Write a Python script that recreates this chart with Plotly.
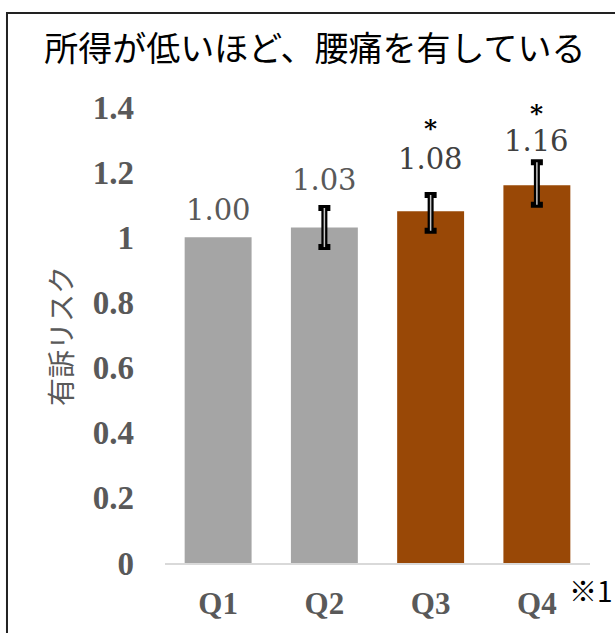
import plotly.graph_objects as go

categories = ["Q1", "Q2", "Q3", "Q4"]
values = [1.00, 1.03, 1.08, 1.16]
err_plus = [None, 0.06, 0.05, 0.07]
err_minus = [None, 0.06, 0.06, 0.06]
labels = ["1.00", "1.03", "1.08", "1.16"]
significant = [False, False, True, True]
bar_colors = ["#A5A5A5", "#A5A5A5", "#994806", "#994806"]
label_colors = ["#595959", "#595959", "#404040", "#404040"]
y_ticks = [0, 0.2, 0.4, 0.6, 0.8, 1.0, 1.2, 1.4]
y_ticktext = ["0", "0.2", "0.4", "0.6", "0.8", "1", "1.2", "1.4"]

# styling offsets (pixels) for data labels and significance marks
label_shift = [27, 28, 36, 21]
star_shift = [0, 0, 66, 49]

fig = go.Figure()
fig.add_trace(go.Bar(
    x=categories, y=values, marker=dict(color=bar_colors, line=dict(width=0)),
    showlegend=False, hoverinfo="skip",
))

idx = [i for i in range(len(categories)) if err_plus[i] is not None]
ex = [categories[i] for i in idx]
ey = [values[i] for i in idx]
ep = [err_plus[i] for i in idx]
em = [err_minus[i] for i in idx]
fig.add_trace(go.Scatter(
    x=ex, y=ey, mode="markers", marker=dict(size=0.1, opacity=0),
    error_y=dict(type="data", symmetric=False, array=ep, arrayminus=em,
                 color="black", thickness=6, width=6, visible=True),
    showlegend=False, hoverinfo="skip",
))
fig.add_trace(go.Scatter(
    x=ex, y=ey, mode="markers", marker=dict(size=0.1, opacity=0),
    error_y=dict(type="data", symmetric=False, array=ep, arrayminus=em,
                 color="#C8C8C8", thickness=1.5, width=0, visible=True),
    showlegend=False, hoverinfo="skip",
))

for i, c in enumerate(categories):
    top = values[i] + (err_plus[i] or 0)
    fig.add_annotation(x=c, y=top, xref="x", yref="y", text=labels[i], showarrow=False,
                       yanchor="middle", yshift=label_shift[i],
                       font=dict(family="DejaVu Serif", size=29, color=label_colors[i]))
    if significant[i]:
        fig.add_annotation(x=c, y=top, xref="x", yref="y", text="*", showarrow=False,
                           yanchor="middle", yshift=star_shift[i],
                           font=dict(family="DejaVu Serif", size=25, color="black", weight="bold"))

fig.add_annotation(x=0.946, y=-0.059, xref="paper", yref="paper", text="※1", showarrow=False,
                   xanchor="left", yanchor="middle",
                   font=dict(family="Noto Sans CJK JP", size=28, color="black"))

fig.add_annotation(x=-0.247, y=0.498, xref="paper", yref="paper", text="有訴リスク",
                   showarrow=False, textangle=-90, xanchor="center", yanchor="middle",
                   font=dict(family="Noto Sans CJK JP", size=28, color="#595959"))

fig.add_shape(type="rect", xref="paper", yref="paper", x0=-0.3718, x1=1.3, y0=-0.3, y1=1.206,
              line=dict(color="#222222", width=2), fillcolor="rgba(0,0,0,0)")

fig.update_layout(
    width=615, height=633,
    margin=dict(l=165, r=25, t=107, b=70),
    paper_bgcolor="white", plot_bgcolor="white",
    bargap=0.37,
    title=dict(text="所得が低いほど、腰痛を有している", x=0.512, xanchor="center",
               y=0.922, yanchor="middle",
               font=dict(family="Noto Sans CJK JP", size=34, color="black")),
    xaxis=dict(showline=True, linecolor="#D9D9D9", linewidth=1.5, ticks="", automargin=False,
               ticklabelstandoff=12,
               tickfont=dict(family="Liberation Serif", size=31, color="#595959", weight="bold"),
               showgrid=False),
    yaxis=dict(range=[0, 1.4], tickvals=y_ticks, ticktext=y_ticktext, showgrid=False,
               showline=False, zeroline=False, ticks="", ticklabelstandoff=30, automargin=False,
               tickfont=dict(family="Liberation Serif", size=33, color="#595959", weight="bold")),
)

fig.write_html("out.html", config={"displayModeBar": False},
               post_script="document.body.style.margin='0';document.body.style.overflow='hidden';")
